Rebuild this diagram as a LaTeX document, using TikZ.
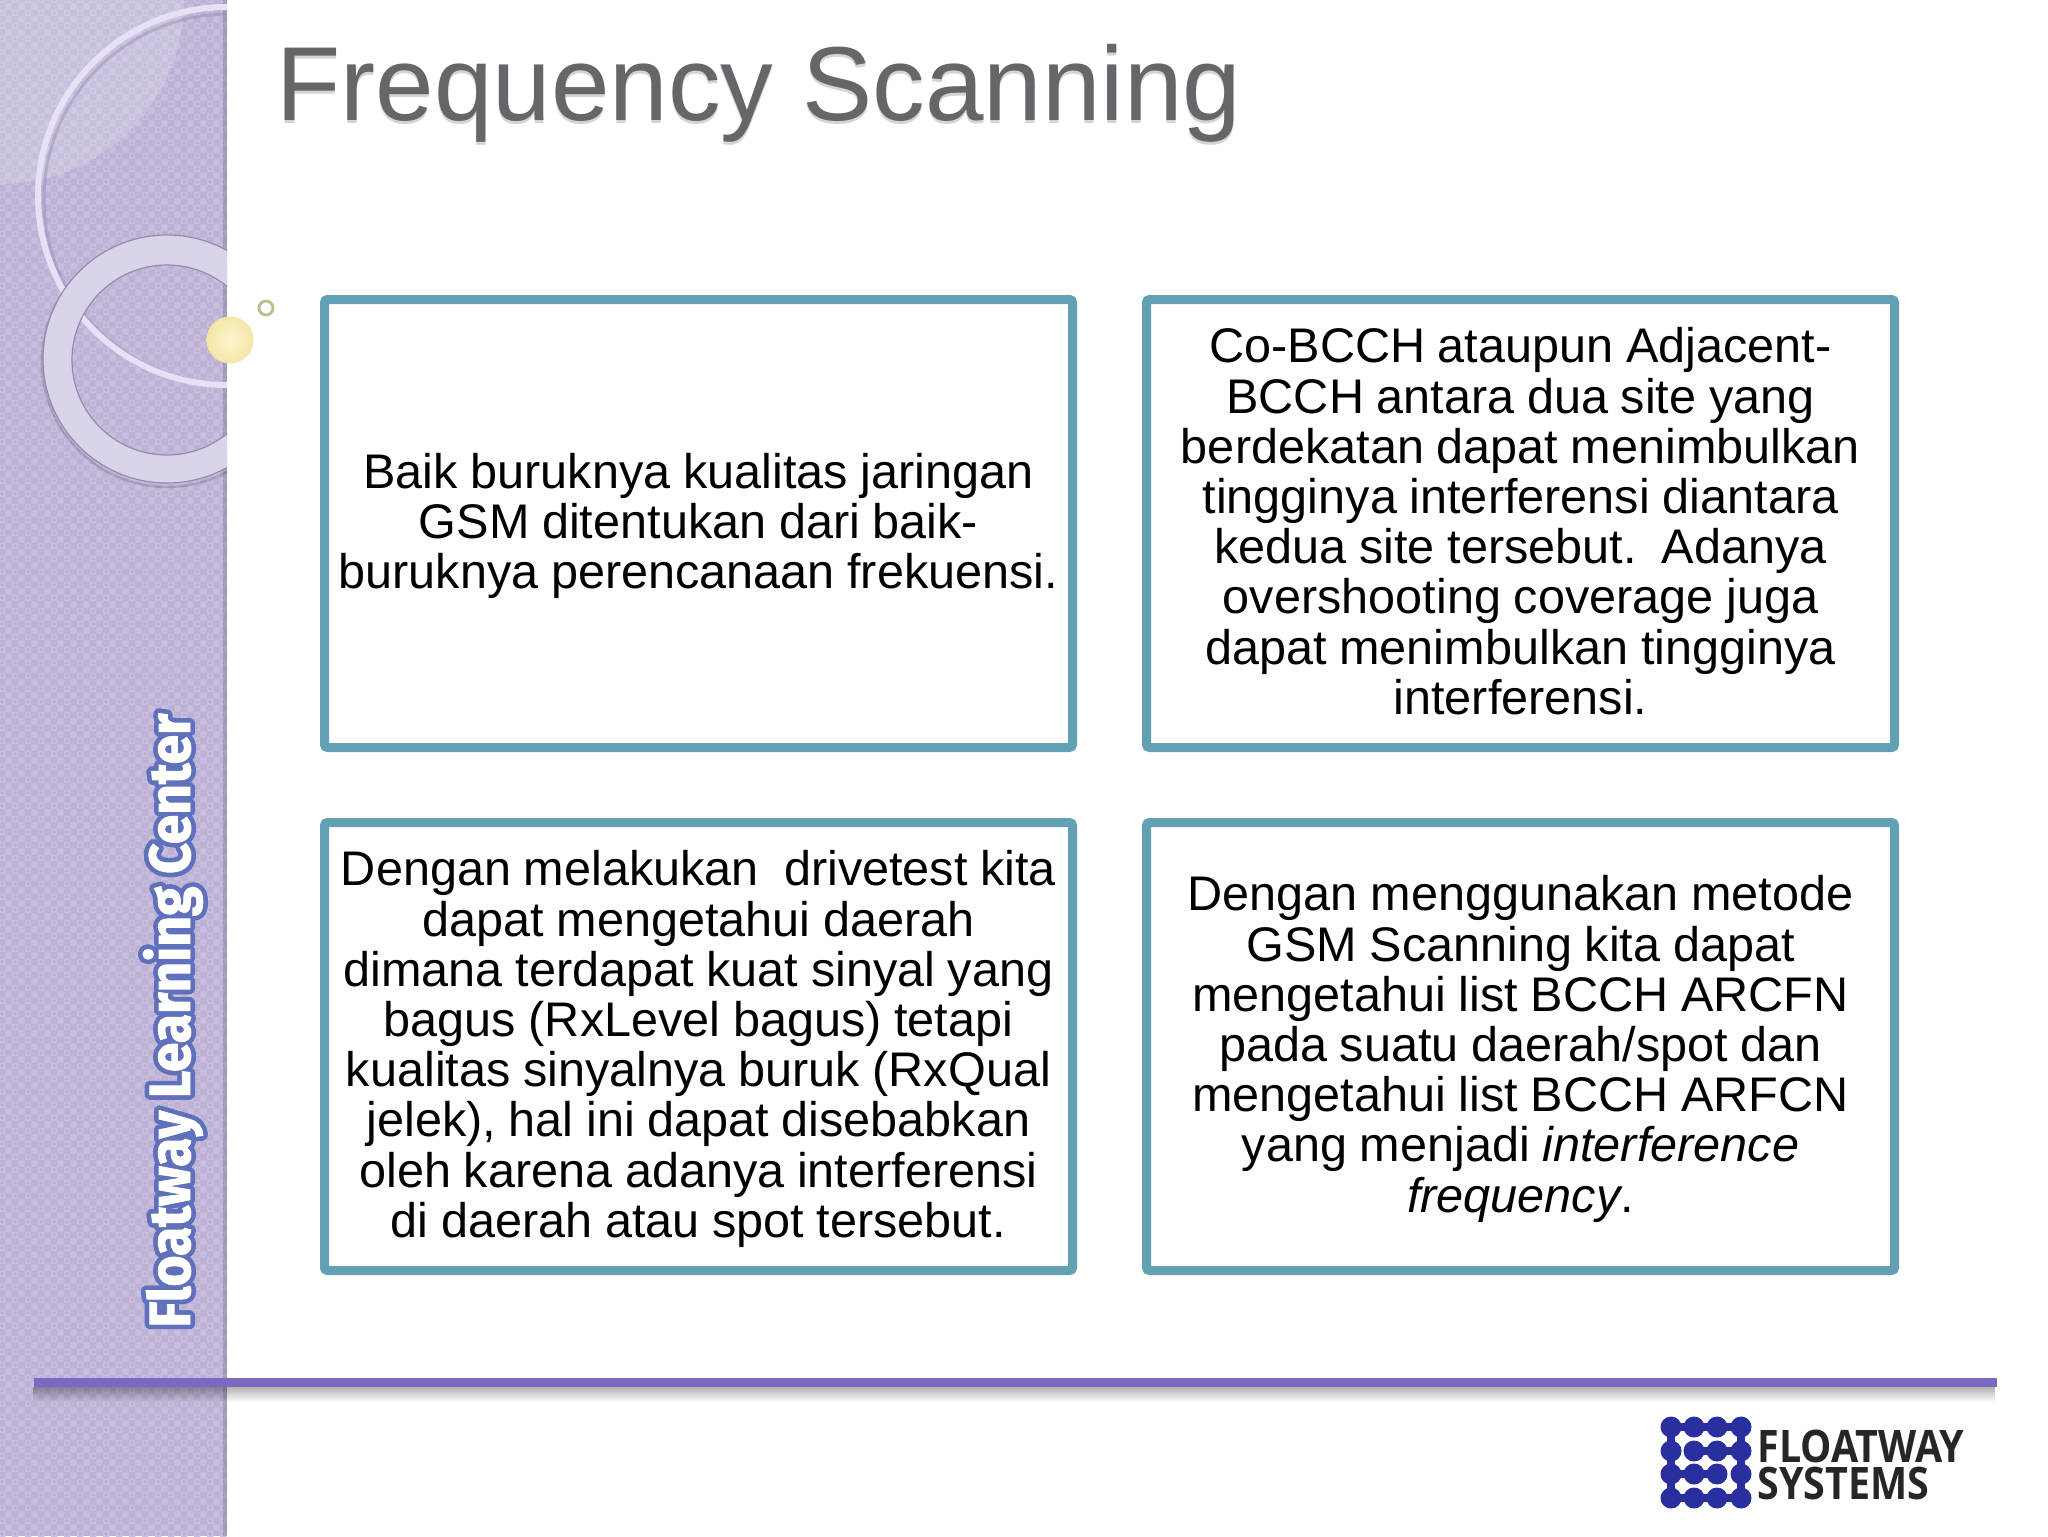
\documentclass[tikz,border=0pt]{standalone}
\usepackage{fontspec}
\setmainfont{Liberation Sans}
\newfontfamily\sidefont[BoldFeatures={FakeBold=1.6,FakeStretch=0.92}]{Fira Sans}
\newfontfamily\logofont[BoldFeatures={FakeStretch=0.88}]{Open Sans}
\usepackage[copies]{contour}
\usetikzlibrary{patterns}
\usetikzlibrary{fadings}
\definecolor{sidebase}{RGB}{189,177,213}
\definecolor{sidelight}{RGB}{200,190,221}
\definecolor{ringthin}{RGB}{230,225,245}
\definecolor{ringwide}{RGB}{218,212,232}
\definecolor{ringline}{RGB}{150,138,178}
\definecolor{boxteal}{RGB}{98,160,180}
\definecolor{titlegray}{RGB}{101,101,106}
\definecolor{titleshade}{RGB}{212,212,214}
\definecolor{rulepurple}{RGB}{123,104,192}
\definecolor{glowblue}{RGB}{95,112,188}
\definecolor{logoblue}{RGB}{42,47,160}
\definecolor{ballinner}{RGB}{252,245,210}
\definecolor{ballouter}{RGB}{245,230,165}
\definecolor{dotring}{RGB}{190,188,140}
\pgfdeclarepatternformonly{sidegrid}{\pgfqpoint{0pt}{0pt}}{\pgfqpoint{6.67pt}{6.67pt}}{\pgfqpoint{6.67pt}{6.67pt}}{
  \pgfpathrectangle{\pgfqpoint{0pt}{0pt}}{\pgfqpoint{3.3pt}{0.9pt}}
  \pgfpathrectangle{\pgfqpoint{0pt}{2.4pt}}{\pgfqpoint{3.3pt}{0.9pt}}
  \pgfpathrectangle{\pgfqpoint{0pt}{0.9pt}}{\pgfqpoint{0.9pt}{1.5pt}}
  \pgfpathrectangle{\pgfqpoint{2.4pt}{0.9pt}}{\pgfqpoint{0.9pt}{1.5pt}}
  \pgfpathrectangle{\pgfqpoint{3.3pt}{3.3pt}}{\pgfqpoint{3.37pt}{3.37pt}}
  \pgfusepath{fill}}
\newcommand{\titletext}[1]{\rlap{\raisebox{-1.6pt}{\color{titleshade}#1}}#1}
\newcommand{\boxlines}[1]{\spaceskip=0.26em\relax\leavevmode\rule{0pt}{22.6pt}#1\strut}
\tikzset{
  textbox/.style={draw=boxteal,line width=4.5pt,rounded corners=1.5pt,fill=white,inner sep=0pt,
    minimum width=374pt,minimum height=224pt,text width=372pt,align=center,text=black,
    font=\fontsize{24.3}{25.1}\selectfont},
  logodot/.style={fill=logoblue},
  logobar/.style={draw=logoblue,line width=4pt}
}
\begin{document}
\begin{tikzpicture}[x=0.5pt,y=0.5pt,yscale=-1,xscale=1]
\useasboundingbox (0,0) rectangle (2048,1536);

%Sidebar
\fill [sidebase] (0,0) rectangle (227,1536);
\fill [pattern=sidegrid,pattern color=sidelight] (0,0) rectangle (227,1536);
\fill [black,opacity=0.14] (223,0) rectangle (227,1536);

%Rings, cut at the sidebar edge
\begin{scope}
\clip (0,0) rectangle (227,1536);
\fill [white,fill opacity=0.18] (0,0) -- (184,0) arc (0:90:184) -- cycle;
\draw [ringline,opacity=0.45,line width=1.5pt] (229,199) circle (185);
\draw [ringthin,line width=3pt] (227,196) circle (189);
\draw [black,opacity=0.14,line width=1.2pt] (167,362) circle (125);
\fill [ringwide,even odd rule] (167,359) circle (124) (167,360) circle (95);
\draw [ringline,line width=0.6pt] (167,359) circle (124) (167,360) circle (95);
\end{scope}

%Bottom rule
\fill [black,opacity=0.3,path fading=south] (34,1387) rectangle (1997,1402);
\fill [rulepurple] (34,1378) rectangle (1997,1387);

%Ball and small ring
\shade [inner color=ballinner,outer color=ballouter] (230,340) circle (23.5);
\draw [dotring,line width=1.4pt] (266,308) circle (7);

%Title
\node (title) [anchor=base west,inner sep=0pt,text=titlegray,font=\fontsize{52.6}{60}\selectfont] at (276,120) {\titletext{Frequency Scanning}};

%Side label
\contourlength{2.3pt}
\node (sidelabel) [anchor=base west,rotate=90,inner sep=0pt,text=white,font=\sidefont\bfseries\fontsize{29}{36}\selectfont] at (190,1328) {\contour{glowblue}{Floatway Learning Center}};

%Text boxes
\node (quality) [textbox] at (698.5,523.5) {\boxlines{Baik buruknya kualitas jaringan\\GSM ditentukan dari baik-\\buruknya perencanaan frekuensi.}};
\node (overlap) [textbox] at (1520.5,523.5) {\boxlines{Co-BCCH ataupun Adjacent-\\BCCH antara dua site yang\\berdekatan dapat menimbulkan\\tingginya interferensi diantara\\kedua site tersebut.\ \ Adanya\\overshooting coverage juga\\dapat menimbulkan tingginya\\interferensi.}};
\node (drivetest) [textbox] at (698.5,1046.5) {\boxlines{Dengan melakukan\ \ drivetest kita\\dapat mengetahui daerah\\dimana terdapat kuat sinyal yang\\bagus (RxLevel bagus) tetapi\\kualitas sinyalnya buruk (RxQual\\jelek), hal ini dapat disebabkan\\oleh karena adanya interferensi\\di daerah atau spot tersebut.}};
\node (scanning) [textbox] at (1520.5,1046.5) {\boxlines{Dengan menggunakan metode\\GSM Scanning kita dapat\\mengetahui list BCCH ARCFN\\pada suatu daerah/spot dan\\mengetahui list BCCH ARFCN\\yang menjadi \textit{interference}\\\textit{frequency}.}};

%Logo dots
\foreach \px in {1671,1694,1717,1741}
  \foreach \py in {1427,1451,1474,1498}
    \fill [logodot] (\px,\py) circle (10.5);
\foreach \py in {1427,1498}
  \draw [logobar] (1671,\py) -- (1741,\py);
\draw [logobar] (1694,1451) -- (1741,1451);
\draw [logobar] (1671,1474) -- (1717,1474);
\foreach \px in {1671,1741}
  \draw [logobar] (\px,1427) -- (\px,1498);

%Logo text
\node (logotop) [anchor=base west,inner sep=0pt,text=black!85,font=\logofont\bfseries\fontsize{22.4}{24}\selectfont] at (1757,1462) {FLOATWAY};
\node (logobottom) [anchor=base west,inner sep=0pt,text=black!85,font=\logofont\bfseries\fontsize{22.4}{24}\selectfont] at (1757,1499) {SYSTEMS};

\end{tikzpicture}
\end{document}
